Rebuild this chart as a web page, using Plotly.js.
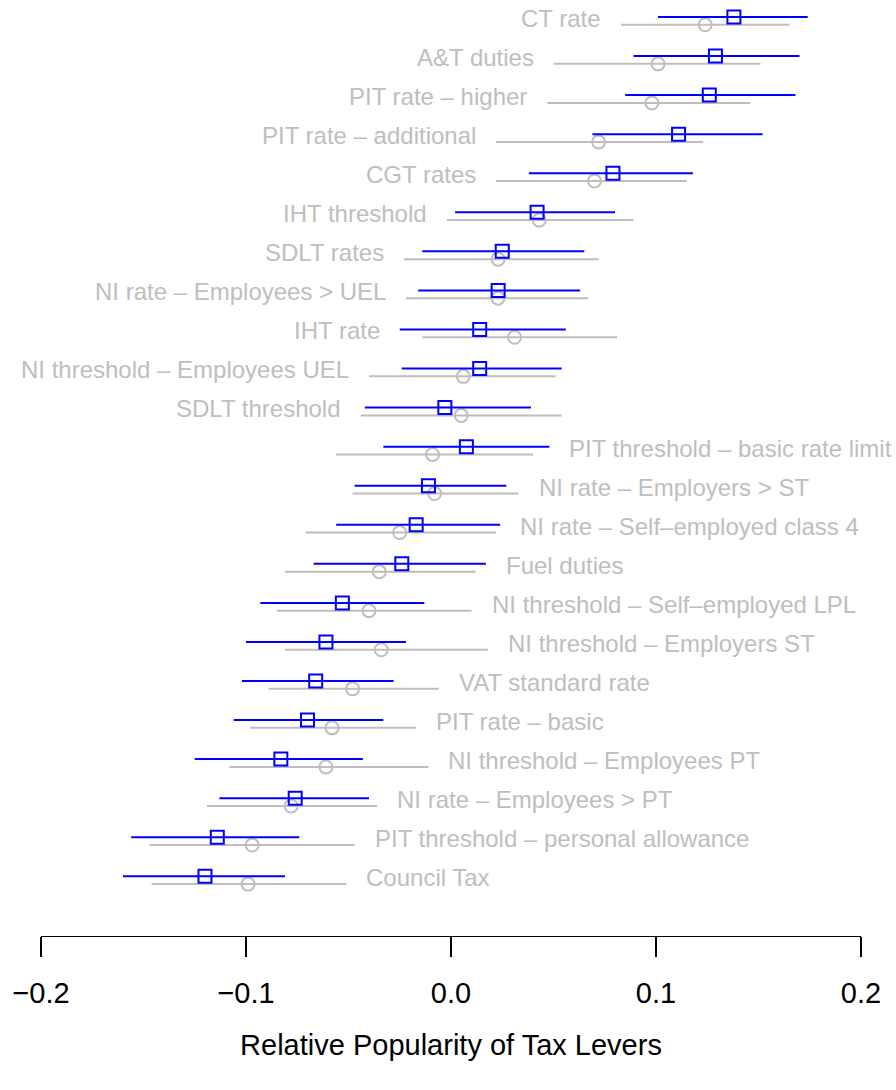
<!DOCTYPE html>
<html>
<head>
<meta charset="utf-8">
<script src="https://cdn.plot.ly/plotly-3.0.1.min.js"></script>
<style>
  html, body { margin: 0; padding: 0; background: #ffffff; }
  #chart { width: 896px; height: 1090px; }
</style>
</head>
<body>
<div id="chart"></div>
<script>
// Tax levers, listed top to bottom
const levers = [
  "CT rate",
  "A&T duties",
  "PIT rate – higher",
  "PIT rate – additional",
  "CGT rates",
  "IHT threshold",
  "SDLT rates",
  "NI rate – Employees > UEL",
  "IHT rate",
  "NI threshold – Employees UEL",
  "SDLT threshold",
  "PIT threshold – basic rate limit",
  "NI rate – Employers > ST",
  "NI rate – Self–employed class 4",
  "Fuel duties",
  "NI threshold – Self–employed LPL",
  "NI threshold – Employers ST",
  "VAT standard rate",
  "PIT rate – basic",
  "NI threshold – Employees PT",
  "NI rate – Employees > PT",
  "PIT threshold – personal allowance",
  "Council Tax"
];

// Blue series: estimate and interval
const blueEst = [0.138, 0.129, 0.126, 0.111, 0.079, 0.042, 0.025, 0.023, 0.014, 0.014, -0.003,
                 0.0075, -0.011, -0.017, -0.024, -0.053, -0.061, -0.066, -0.070, -0.083, -0.076, -0.114, -0.120];
const blueLo  = [0.101, 0.089, 0.085, 0.069, 0.038, 0.002, -0.014, -0.016, -0.025, -0.024, -0.042,
                 -0.033, -0.047, -0.056, -0.067, -0.093, -0.100, -0.102, -0.106, -0.125, -0.113, -0.156, -0.160];
const blueHi  = [0.174, 0.170, 0.168, 0.152, 0.118, 0.080, 0.065, 0.063, 0.056, 0.054, 0.039,
                 0.048, 0.027, 0.024, 0.017, -0.013, -0.022, -0.028, -0.033, -0.043, -0.040, -0.074, -0.081];

// Grey series: estimate and interval
const greyEst = [0.124, 0.101, 0.098, 0.072, 0.070, 0.043, 0.023, 0.023, 0.031, 0.006, 0.005,
                 -0.009, -0.008, -0.025, -0.035, -0.040, -0.034, -0.048, -0.058, -0.061, -0.078, -0.097, -0.099];
const greyLo  = [0.083, 0.050, 0.047, 0.022, 0.022, -0.002, -0.023, -0.022, -0.014, -0.040, -0.044,
                 -0.056, -0.048, -0.071, -0.081, -0.085, -0.081, -0.089, -0.098, -0.108, -0.119, -0.147, -0.146];
const greyHi  = [0.165, 0.151, 0.146, 0.123, 0.115, 0.089, 0.072, 0.067, 0.081, 0.051, 0.054,
                 0.040, 0.033, 0.022, 0.012, 0.010, 0.018, -0.006, -0.017, -0.011, -0.036, -0.047, -0.051];

// Number of rows whose label sits to the left of the intervals
const leftLabelCount = 11;

const xTicks = [-0.2, -0.1, 0.0, 0.1, 0.2];

const n = levers.length;
const rowPos = levers.map((_, i) => n - 1 - i);
const blueY = rowPos.map(r => r + 0.1);
const greyY = rowPos.map(r => r - 0.1);

const FONT = "Liberation Sans, Arial, Helvetica, sans-serif";
const GREY = "#BEBEBE";
const BLUE = "#0000FF";

const greyTrace = {
  type: "scatter", mode: "markers",
  x: greyEst, y: greyY,
  marker: { symbol: "circle-open", size: 13, color: GREY, line: { width: 2, color: GREY } },
  error_x: {
    type: "data", symmetric: false,
    array: greyHi.map((h, i) => h - greyEst[i]),
    arrayminus: greyEst.map((e, i) => e - greyLo[i]),
    color: GREY, thickness: 2, width: 0
  },
  hoverinfo: "skip", showlegend: false, cliponaxis: false
};

const blueTrace = {
  type: "scatter", mode: "markers",
  x: blueEst, y: blueY,
  marker: { symbol: "square-open", size: 13, color: BLUE, line: { width: 2, color: BLUE } },
  error_x: {
    type: "data", symmetric: false,
    array: blueHi.map((h, i) => h - blueEst[i]),
    arrayminus: blueEst.map((e, i) => e - blueLo[i]),
    color: BLUE, thickness: 2, width: 0
  },
  hoverinfo: "skip", showlegend: false, cliponaxis: false
};

// Row labels placed just beyond the outer end of each row's intervals
const annotations = levers.map((name, i) => {
  const left = i < leftLabelCount;
  return {
    text: name,
    x: left ? Math.min(blueLo[i], greyLo[i]) : Math.max(blueHi[i], greyHi[i]),
    y: rowPos[i],
    xref: "x", yref: "y",
    xanchor: left ? "right" : "left",
    yanchor: "middle",
    xshift: left ? -18 : 18,
    yshift: 2.5,
    showarrow: false,
    font: { family: FONT, size: 24, color: GREY }
  };
});

const layout = {
  width: 896, height: 1090,
  margin: { l: 41, r: 35, t: 0, b: 154 },
  paper_bgcolor: "#ffffff", plot_bgcolor: "#ffffff",
  font: { family: FONT, color: "#000000" },
  xaxis: {
    range: [-0.2, 0.2],
    tickvals: xTicks,
    tickformat: ".1f",
    showgrid: false, zeroline: false,
    showline: true, linecolor: "#000000", linewidth: 1.3,
    ticks: "outside", ticklen: 20, tickwidth: 1.3, tickcolor: "#000000",
    ticklabelstandoff: 11,
    tickfont: { family: FONT, size: 29, color: "#000000" },
    title: { text: "Relative Popularity of Tax Levers", font: { family: FONT, size: 29, color: "#000000" }, standoff: 26 },
    fixedrange: true
  },
  yaxis: {
    range: [-1.4286, 22.535],
    showgrid: false, zeroline: false, showline: false,
    showticklabels: false, ticks: "",
    fixedrange: true
  },
  annotations: annotations,
  showlegend: false
};

Plotly.newPlot("chart", [greyTrace, blueTrace], layout, { displayModeBar: false, staticPlot: true });
</script>
</body>
</html>
